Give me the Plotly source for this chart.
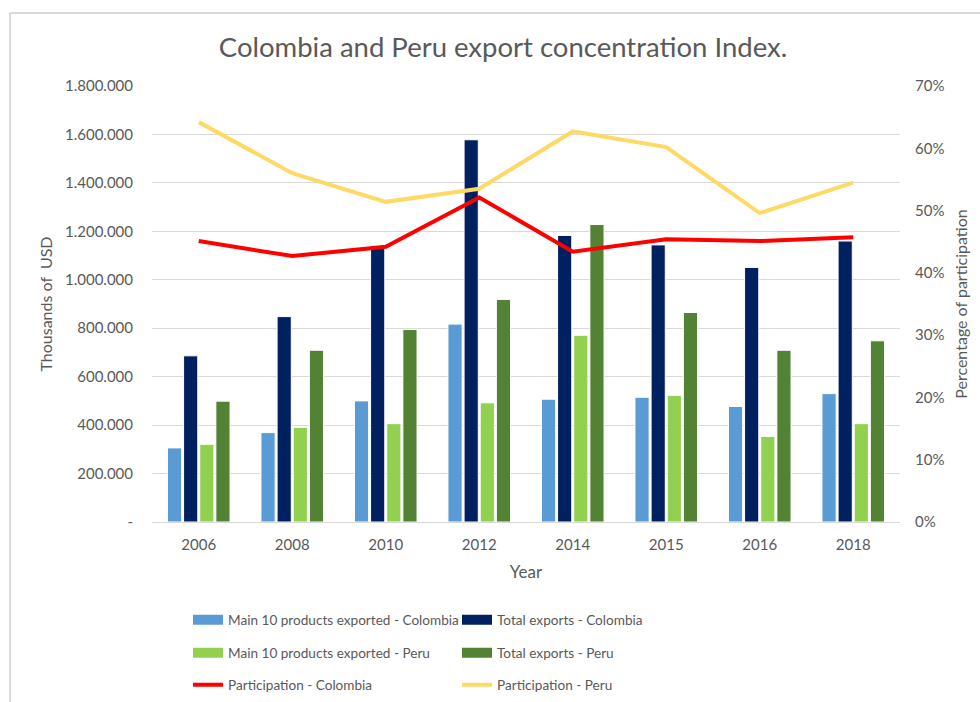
import plotly.graph_objects as go

# Export data (thousands of USD) and participation shares by year
years = ["2006", "2008", "2010", "2012", "2014", "2015", "2016", "2018"]
main10_colombia = [306000, 369000, 500000, 817000, 507000, 515000, 477000, 530000]
total_colombia = [686000, 848000, 1136000, 1578000, 1183000, 1144000, 1051000, 1160000]
main10_peru = [321000, 391000, 406000, 492000, 771000, 523000, 353000, 406000]
total_peru = [499000, 709000, 795000, 919000, 1228000, 865000, 709000, 748000]
participation_colombia = [0.451, 0.427, 0.442, 0.521, 0.434, 0.454, 0.451, 0.457]
participation_peru = [0.642, 0.560, 0.514, 0.535, 0.627, 0.602, 0.496, 0.545]

# Axis ticks
usd_tickvals = [0, 200000, 400000, 600000, 800000, 1000000, 1200000, 1400000, 1600000, 1800000]
usd_ticktext = ["-", "200.000", "400.000", "600.000", "800.000", "1.000.000",
                "1.200.000", "1.400.000", "1.600.000", "1.800.000"]
pct_tickvals = [0, 0.1, 0.2, 0.3, 0.4, 0.5, 0.6, 0.7]
pct_ticktext = ["0%", "10%", "20%", "30%", "40%", "50%", "60%", "70%"]

FONT = "Lato"
GREY = "#595959"
GRID = "#D9D9D9"

bar_series = [
    ("Main 10 products exported - Colombia", main10_colombia, "#5B9BD5", "legend"),
    ("Total exports - Colombia", total_colombia, "#002060", "legend"),
    ("Main 10 products exported - Peru", main10_peru, "#92D050", "legend2"),
    ("Total exports - Peru", total_peru, "#548235", "legend2"),
]
line_series = [
    ("Participation - Colombia", participation_colombia, "#FF0000", "legend3"),
    ("Participation - Peru", participation_peru, "#FFD966", "legend3"),
]

fig = go.Figure()

for name, vals, color, _ in bar_series:
    fig.add_trace(go.Bar(
        x=years, y=vals, name=name, marker_color=color,
        marker_line_color="white", marker_line_width=1,
        showlegend=False,
    ))

# Wide rectangular legend keys for the bar series
for name, vals, color, leg in bar_series:
    fig.add_trace(go.Scatter(
        x=[None], y=[None], mode="lines", name=name,
        line=dict(color=color, width=10), legend=leg,
    ))

for name, vals, color, leg in line_series:
    fig.add_trace(go.Scatter(
        x=years, y=vals, name=name, mode="lines", yaxis="y2",
        line=dict(color=color, width=4), legend=leg,
    ))

legend_common = dict(
    orientation="h", xref="container", yref="container",
    x=188 / 980, xanchor="left", yanchor="middle",
    entrywidth=224, font=dict(family=FONT, size=13.6, color=GREY),
    bgcolor="rgba(0,0,0,0)", itemwidth=30,
)

fig.update_layout(
    width=980, height=702,
    margin=dict(l=152, r=80, t=86, b=180),
    paper_bgcolor="white", plot_bgcolor="white",
    font=dict(family=FONT, color=GREY),
    title=dict(
        text="Colombia and Peru export concentration Index.",
        x=503 / 980, xanchor="center", xref="container",
        y=1 - 47 / 702, yanchor="middle", yref="container",
        font=dict(family=FONT, size=27.5, color=GREY),
    ),
    barmode="group", bargap=0.31, bargroupgap=0.12,
    xaxis=dict(
        type="category", showgrid=False, ticks="",
        showline=True, linecolor=GRID, linewidth=1,
        ticklabelstandoff=9,
        tickfont=dict(family=FONT, size=15, color=GREY),
        title=dict(text="Year", font=dict(family=FONT, size=17, color=GREY), standoff=14),
    ),
    yaxis=dict(
        range=[0, 1800000], tickvals=usd_tickvals, ticktext=usd_ticktext,
        showgrid=True, gridcolor=GRID, gridwidth=1, zeroline=False,
        ticks="", ticklabelstandoff=18,
        tickfont=dict(family=FONT, size=15, color=GREY),
        title=dict(text="Thousands of  USD", font=dict(family=FONT, size=16, color=GREY), standoff=8),
    ),
    yaxis2=dict(
        range=[0, 0.7], tickvals=pct_tickvals, ticktext=pct_ticktext,
        overlaying="y", side="right", showgrid=False, zeroline=False,
        ticks="", ticklabelstandoff=14,
        tickfont=dict(family=FONT, size=15, color=GREY),
        title=dict(text="Percentage of participation", font=dict(family=FONT, size=16, color=GREY), standoff=12),
    ),
    legend=dict(legend_common, y=1 - 620 / 702),
    legend2=dict(legend_common, y=1 - 653 / 702),
    legend3=dict(legend_common, y=1 - 685 / 702),
    showlegend=True,
)

# Chart area border (left and top edges)
border = dict(color="#D9D9D9", width=2)
fig.add_shape(type="line", xref="paper", yref="paper",
              x0=-142 / 748, x1=-142 / 748, y0=-1.0, y1=508.7 / 435.7, line=border)
fig.add_shape(type="line", xref="paper", yref="paper",
              x0=-142 / 748, x1=1.5, y0=508.7 / 435.7, y1=508.7 / 435.7, line=border)

fig.write_html("out.html")
